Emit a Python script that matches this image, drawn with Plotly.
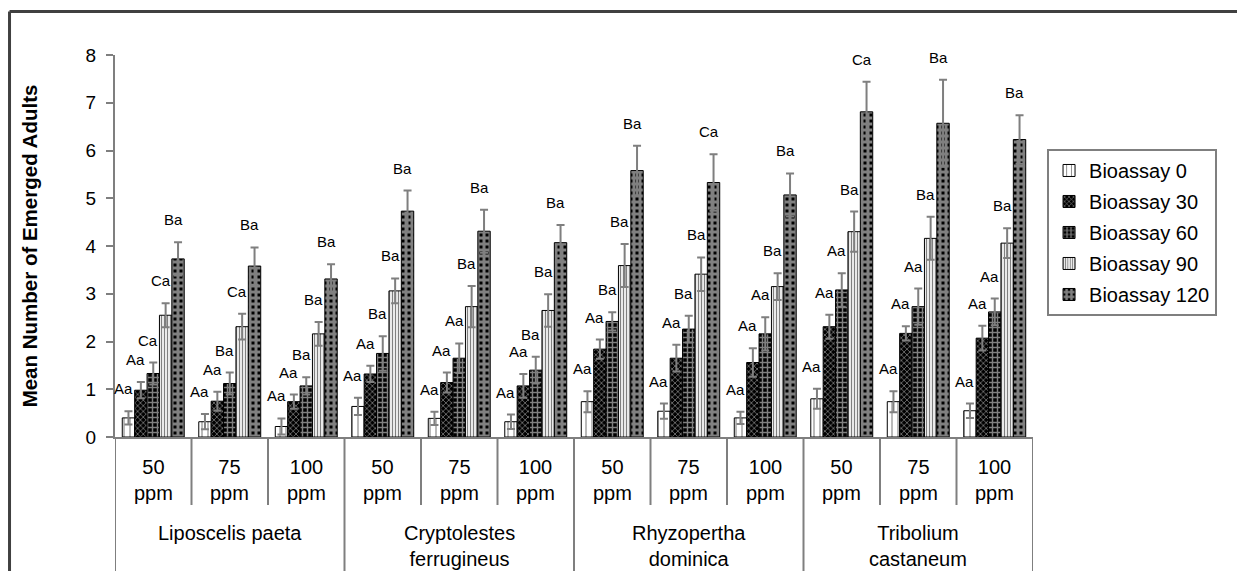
import plotly.graph_objects as go

species = ["Liposcelis paeta", "Cryptolestes<br>ferrugineus", "Rhyzopertha<br>dominica", "Tribolium<br>castaneum"]
doses = ["50<br>ppm", "75<br>ppm", "100<br>ppm"]
series_names = ["Bioassay 0", "Bioassay 30", "Bioassay 60", "Bioassay 90", "Bioassay 120"]

b0 = [0.40, 0.32, 0.22, 0.64, 0.39, 0.32, 0.74, 0.54, 0.40, 0.80, 0.74, 0.55]
b30 = [0.98, 0.75, 0.74, 1.32, 1.14, 1.07, 1.84, 1.65, 1.56, 2.31, 2.17, 2.07]
b60 = [1.33, 1.12, 1.07, 1.75, 1.65, 1.40, 2.42, 2.26, 2.16, 3.08, 2.73, 2.62]
b90 = [2.55, 2.31, 2.16, 3.06, 2.73, 2.65, 3.59, 3.41, 3.15, 4.30, 4.16, 4.06]
b120 = [3.73, 3.58, 3.31, 4.73, 4.31, 4.07, 5.58, 5.33, 5.07, 6.81, 6.57, 6.23]

e0 = [0.14, 0.16, 0.17, 0.18, 0.14, 0.15, 0.22, 0.16, 0.13, 0.21, 0.22, 0.15]
e30 = [0.17, 0.20, 0.15, 0.17, 0.21, 0.25, 0.20, 0.28, 0.30, 0.25, 0.15, 0.26]
e60 = [0.23, 0.23, 0.18, 0.36, 0.31, 0.28, 0.19, 0.28, 0.35, 0.35, 0.38, 0.28]
e90 = [0.25, 0.27, 0.25, 0.26, 0.43, 0.34, 0.45, 0.35, 0.28, 0.42, 0.45, 0.31]
e120 = [0.35, 0.39, 0.31, 0.43, 0.45, 0.37, 0.52, 0.59, 0.45, 0.63, 0.91, 0.51]

l0 = ["Aa"] * 12
l30 = ["Aa"] * 12
l60 = ["Ca", "Ba", "Ba", "Ba", "Aa", "Ba", "Ba", "Ba", "Aa", "Aa", "Aa", "Aa"]
l90 = ["Ca", "Ca", "Ba", "Ba", "Ba", "Ba", "Ba", "Ba", "Ba", "Ba", "Ba", "Ba"]
l120 = ["Ba", "Ba", "Ba", "Ba", "Ba", "Ba", "Ba", "Ca", "Ba", "Ca", "Ba", "Ba"]

values = [b0, b30, b60, b90, b120]
errors = [e0, e30, e60, e90, e120]
labels = [l0, l30, l60, l90, l120]

FONT = "Liberation Sans, Arial, sans-serif"
GREY = "#7f7f7f"
PLOT_H = 571 - 55 - 134

patterns = [
    dict(shape="|", fgcolor="black", bgcolor="white", size=6, solidity=0.18),
    dict(shape="x", fgcolor="white", bgcolor="black", size=4, solidity=0.35),
    dict(shape="+", fgcolor="white", bgcolor="black", size=5, solidity=0.5),
    dict(shape="|", fgcolor="black", bgcolor="white", size=3, solidity=0.45),
    dict(shape="+", fgcolor="white", bgcolor="black", size=6, solidity=0.75),
]

x_sp = [s for s in species for _ in doses]
x_dose = [d for _ in species for d in doses]
ncat = len(x_sp)
nd = len(doses)

fig = go.Figure()
for name, v, e, p in zip(series_names, values, errors, patterns):
    fig.add_trace(go.Bar(
        name=name, x=[x_sp, x_dose], y=v, legendgroup=name,
        marker=dict(color="white", line=dict(color="black", width=1), pattern=p),
        error_y=dict(type="data", array=e, visible=True, color=GREY, thickness=2, width=4),
    ))

BARGAP = 0.19
nser = len(series_names)
bw = (1 - BARGAP) / nser
annotations = []
for j in range(nser):
    for i in range(ncat):
        annotations.append(dict(
            x=i - (1 - BARGAP) / 2 + bw / 2 + j * bw, y=values[j][i] + errors[j][i],
            xref="x2", yref="y", text=labels[j][i], showarrow=False,
            yanchor="bottom", yshift=12, xshift=-5,
            font=dict(family=FONT, size=15, color="black"),
        ))

# category labels
for i in range(ncat):
    annotations.append(dict(x=i, y=0, xref="x2", yref="paper", text=x_dose[i], showarrow=False,
                            yanchor="top", yshift=-17, align="center",
                            font=dict(family=FONT, size=20, color="black")))
for k, s in enumerate(species):
    annotations.append(dict(x=k * nd + (nd - 1) / 2, y=0, xref="x2", yref="paper", text=s,
                            showarrow=False, yanchor="top", yshift=-83, align="center",
                            font=dict(family=FONT, size=20, color="black")))

shapes = []
for k in range(ncat + 1):
    b = k - 0.5
    y1 = -0.4 if k % nd == 0 else -68 / PLOT_H
    shapes.append(dict(type="line", xref="x2", yref="paper", x0=b, x1=b, y0=0, y1=y1,
                       line=dict(color=GREY, width=2)))

# outer frame (style)
shapes += [
    dict(type="line", xref="paper", yref="paper", x0=-0.1149, x1=-0.1149, y0=-0.5, y1=1.1139,
         line=dict(color="#404040", width=3)),
    dict(type="line", xref="paper", yref="paper", x0=-0.1149, x1=1.3, y0=1.1139, y1=1.1139,
         line=dict(color="#404040", width=3)),
]

fig.update_layout(
    width=1237, height=571,
    margin=dict(l=115, r=204, t=55, b=134),
    paper_bgcolor="white", plot_bgcolor="white",
    barmode="group", bargap=BARGAP, bargroupgap=0,
    font=dict(family=FONT, color="black"),
    showlegend=True,
    legend=dict(x=1.0153, y=0.754, xanchor="left", yanchor="top", tracegroupgap=2,
                bordercolor=GREY, borderwidth=2, font=dict(family=FONT, size=20, color="black")),
    xaxis=dict(type="multicategory", showline=True, linecolor=GREY, linewidth=2,
               ticks="", showticklabels=False, showdividers=False, showgrid=False),
    xaxis2=dict(overlaying="x", anchor="y", range=[-0.5, ncat - 0.5], visible=False),
    yaxis=dict(range=[0, 8], dtick=1, showline=True, linecolor=GREY, linewidth=2,
               ticks="outside", ticklen=7, tickcolor=GREY, tickwidth=2, showgrid=False, zeroline=False,
               ticklabelstandoff=6,
               tickfont=dict(family=FONT, size=19, color="black"),
               title=dict(text="<b>Mean Number of Emerged Adults</b>", standoff=42,
                          font=dict(family=FONT, size=20.5, color="black"))),
    annotations=annotations,
    shapes=shapes,
)

fig.write_html("out.html", config={"displayModeBar": False},
               post_script="document.body.style.margin='0';document.body.style.overflow='hidden';")
